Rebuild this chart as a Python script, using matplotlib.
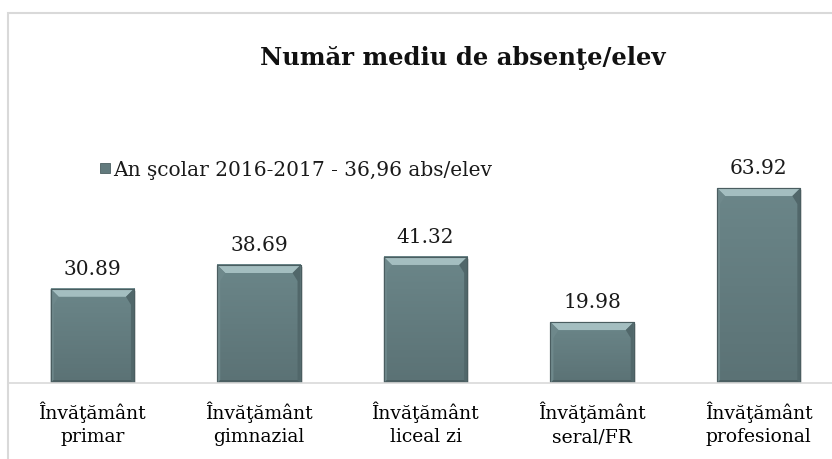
import numpy as np
import matplotlib.pyplot as plt
from matplotlib.patches import Polygon, Rectangle
from matplotlib.colors import LinearSegmentedColormap

plt.rcParams['font.family'] = ['DejaVu Serif']

categories = ['Învăţământ\nprimar', 'Învăţământ\ngimnazial', 'Învăţământ\nliceal zi',
              'Învăţământ\nseral/FR', 'Învăţământ\nprofesional']
values = [30.89, 38.69, 41.32, 19.98, 63.92]
value_labels = ['30.89', '38.69', '41.32', '19.98', '63.92']
series_name = 'An şcolar 2016-2017 - 36,96 abs/elev'
title = 'Număr mediu de absenţe/elev'

W, H = 832, 459
fig = plt.figure(figsize=(W / 100, H / 100), dpi=100)
fig.patch.set_facecolor('white')

# outer chart border (cut off right/bottom in the reference)
fig.patches.append(Rectangle((8 / W, -0.1), 1.1, 1 - 13 / H + 0.1, transform=fig.transFigure,
                             fill=False, edgecolor='#d9d9d9', linewidth=1.5))

ax = fig.add_axes([9 / W, (H - 383) / H, 833 / W, 244 / H])
ax.set_xlim(-0.5, 4.5)
ax.set_ylim(0, 80)
ax.patch.set_alpha(0)
for s in ['top', 'right', 'left']:
    ax.spines[s].set_visible(False)
ax.spines['bottom'].set_color('#d9d9d9')
ax.spines['bottom'].set_linewidth(1.2)
ax.set_yticks([])
ax.set_xticks(range(len(categories)))
ax.set_xticklabels(categories, fontsize=13.5, linespacing=1.4)
ax.tick_params(axis='x', length=0, pad=13)

bars = ax.bar(range(len(values)), values, width=0.5, color='#627a7d',
              edgecolor='#4c5f61', linewidth=0.8, zorder=2)

# bevel effect; pixel sizes converted to data units
px_x = 5 / 833
px_y = 80 / 244
grad = LinearSegmentedColormap.from_list('g', ['#5b7275', '#6b8689'])
for b in bars:
    x0, y0 = b.get_x(), b.get_y()
    x1, y1 = x0 + b.get_width(), y0 + b.get_height()
    # soft shadow
    ax.add_patch(Rectangle((x0 + 2 * px_x, y0), x1 - x0, y1 - y0 - 2 * px_y,
                           facecolor='#c8c8c8', edgecolor='none', alpha=0.6, zorder=1.9))
    ax.imshow(np.linspace(0, 1, 50).reshape(-1, 1), extent=(x0, x1, y0, y1), aspect='auto',
              cmap=grad, origin='lower', zorder=2.1)
    tx, ty = 8 * px_x, 8 * px_y
    sx, sy = 3 * px_x, 3 * px_y
    ax.add_patch(Polygon([(x0, y1), (x1, y1), (x1 - tx, y1 - ty), (x0 + tx, y1 - ty)],
                         facecolor='#a4bec0', edgecolor='none', zorder=2.2))
    ax.add_patch(Polygon([(x0, y1), (x0 + tx, y1 - ty), (x0 + sx, y1 - 2 * ty), (x0 + sx, y0 + sy), (x0, y0)],
                         facecolor='#6e888b', edgecolor='none', zorder=2.2))
    ax.add_patch(Polygon([(x1, y1), (x1 - tx, y1 - ty), (x1 - sx, y1 - 2 * ty), (x1 - sx, y0 + sy), (x1, y0)],
                         facecolor='#51676a', edgecolor='none', zorder=2.2))
    ax.add_patch(Polygon([(x0, y0), (x0 + sx, y0 + sy), (x1 - sx, y0 + sy), (x1, y0)],
                         facecolor='#4b5f62', edgecolor='none', zorder=2.2))
    ax.add_patch(Rectangle((x0, y0), x1 - x0, y1 - y0, fill=False, edgecolor='#4a5d60',
                           linewidth=0.8, zorder=2.3))

for i, (v, lab) in enumerate(zip(values, value_labels)):
    ax.annotate(lab, (i, v), xytext=(0, 7), textcoords='offset points', ha='center',
                va='bottom', fontsize=14.5, color='#1a1a1a')

fig.text(463 / W, 1 - 58 / H, title, ha='center', va='center', fontsize=17.5,
         fontweight='bold', color='#111111')

# legend
fig.patches.append(Rectangle((100 / W, 1 - 173 / H), 10 / W, 10 / H, transform=fig.transFigure,
                             facecolor='#627a7d', edgecolor='#4c5f61', linewidth=0.6))
fig.text(113 / W, 1 - 170 / H, series_name, ha='left', va='center', fontsize=14.5,
         color='#1a1a1a')

fig.savefig('out.png', dpi=100)
